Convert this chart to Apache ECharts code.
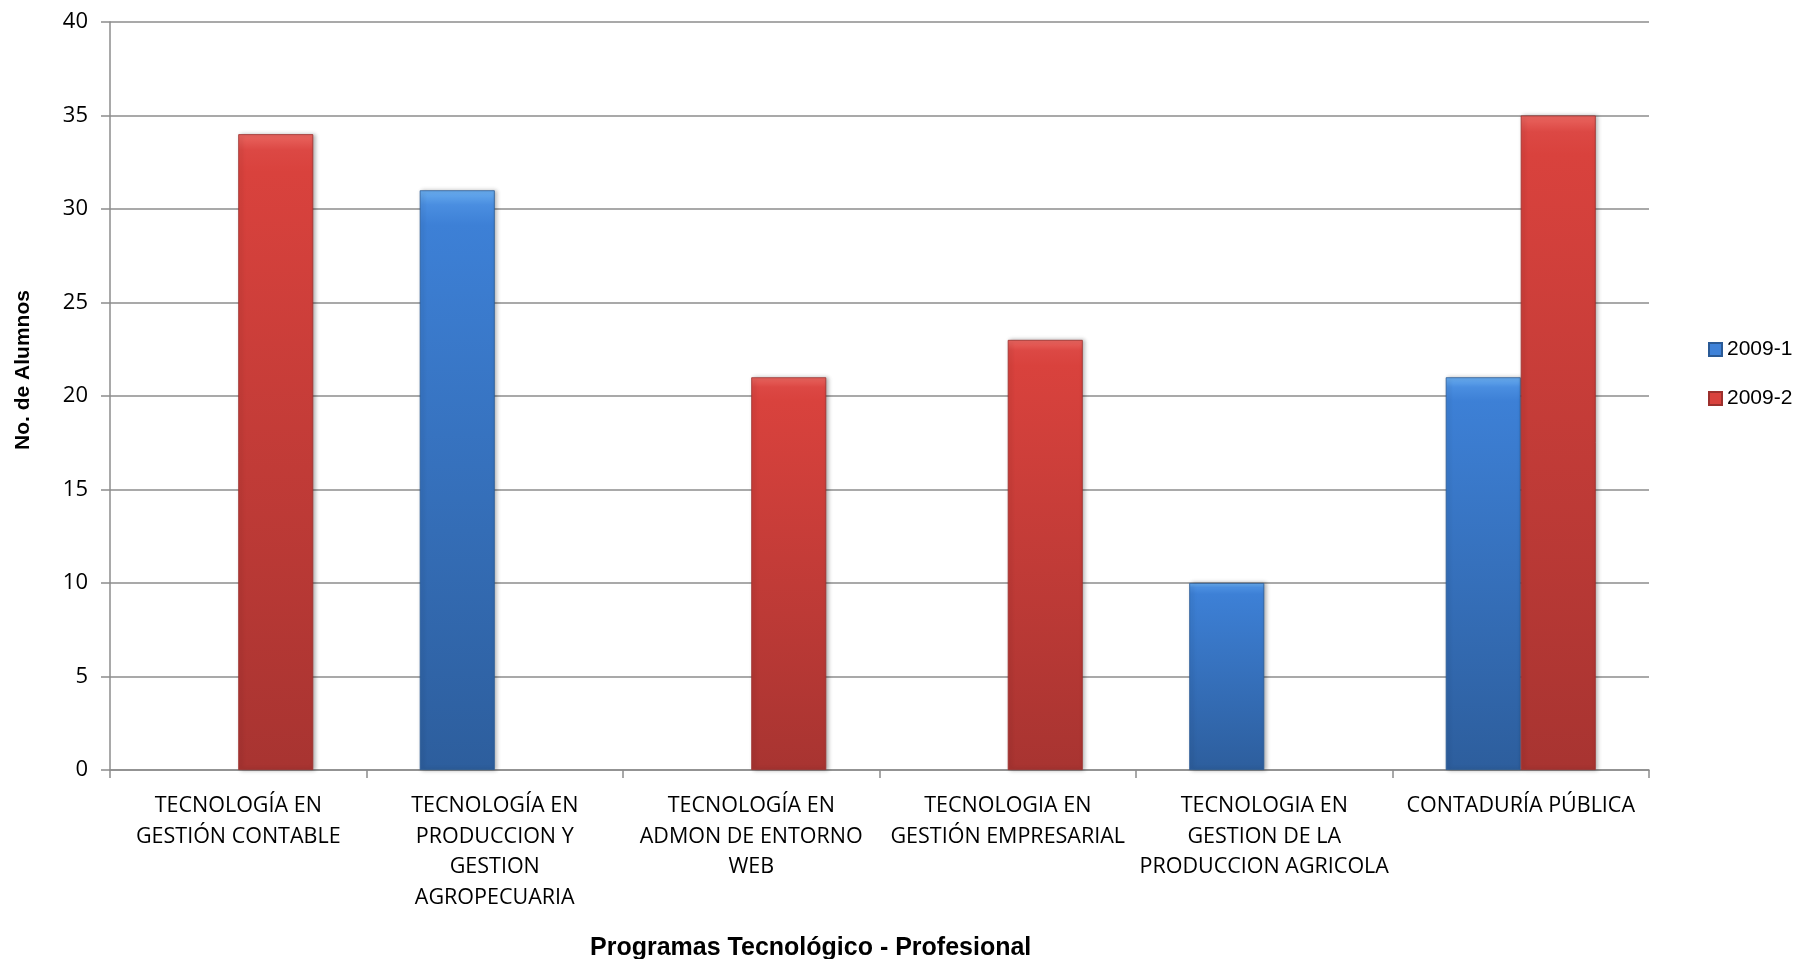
<!DOCTYPE html>
<html>
<head>
<meta charset="utf-8">
<script src="https://cdn.jsdelivr.net/npm/echarts@6/dist/echarts.min.js"></script>
<style>html,body{margin:0;padding:0;background:#fff}#c{width:1798px;height:959px}</style>
</head>
<body>
<div id="c"></div>
<script>
const categories = [
  'TECNOLOGÍA EN\nGESTIÓN CONTABLE',
  'TECNOLOGÍA EN\nPRODUCCION Y\nGESTION\nAGROPECUARIA',
  'TECNOLOGÍA EN\nADMON DE ENTORNO\nWEB',
  'TECNOLOGIA EN\nGESTIÓN EMPRESARIAL',
  'TECNOLOGIA EN\nGESTION DE LA\nPRODUCCION AGRICOLA',
  'CONTADURÍA PÚBLICA'
];
const seriesNames = ['2009-1', '2009-2'];
const values2009_1 = [null, 31, null, null, 10, 21];
const values2009_2 = [34, null, 21, 23, null, 35];
const yTicks = [0, 5, 10, 15, 20, 25, 30, 35, 40];
const xTitle = 'Programas Tecnológico - Profesional';
const yTitle = 'No. de Alumnos';

const blueGrad = new echarts.graphic.LinearGradient(0, 0, 0, 1, [
  {offset: 0, color: '#6aaef0'}, {offset: 0.025, color: '#4a8ee0'},
  {offset: 0.06, color: '#3d80d6'}, {offset: 1, color: '#2d5e9d'}
]);
const redGrad = new echarts.graphic.LinearGradient(0, 0, 0, 1, [
  {offset: 0, color: '#ea6660'}, {offset: 0.025, color: '#dc4844'},
  {offset: 0.06, color: '#d9423d'}, {offset: 1, color: '#a83431'}
]);

const chart = echarts.init(document.getElementById('c'));
chart.setOption({
  animation: false,
  backgroundColor: '#ffffff',
  grid: {left: 110, right: 149, top: 22, bottom: 189, containLabel: false},
  title: {
    text: xTitle, left: 585, top: 931,
    textStyle: {fontFamily: 'Liberation Sans', fontWeight: 'bold', fontSize: 25, color: '#000'}
  },
  graphic: [{
    type: 'text', x: 23, y: 370, rotation: Math.PI / 2,
    style: {text: yTitle, align: 'center', verticalAlign: 'middle',
      font: 'bold 21px "Liberation Sans"', fill: '#000'}
  }],
  legend: {
    orient: 'vertical', left: 1703, top: 334,
    itemWidth: 13, itemHeight: 13, itemGap: 28, icon: 'rect',
    textStyle: {fontFamily: 'Liberation Sans', fontSize: 21, color: '#000'},
    data: [
      {name: seriesNames[0], itemStyle: {color: '#3f82d8'}},
      {name: seriesNames[1], itemStyle: {color: '#d9423d'}}
    ]
  },
  xAxis: {
    type: 'category', data: categories,
    axisLine: {lineStyle: {color: '#8c8c8c', width: 1.5}},
    axisTick: {show: true, length: 8, lineStyle: {color: '#8c8c8c', width: 1.5}},
    axisLabel: {
      interval: 0, margin: 21, color: '#000', fontFamily: 'Open Sans',
      fontSize: 21.5, lineHeight: 30.4
    }
  },
  yAxis: {
    type: 'value', min: yTicks[0], max: yTicks[yTicks.length - 1], interval: 5,
    axisLine: {show: true, lineStyle: {color: '#8c8c8c', width: 1.5}},
    axisTick: {show: true, length: 9, lineStyle: {color: '#8c8c8c', width: 1.5}},
    splitLine: {lineStyle: {color: '#8c8c8c', width: 1.5}},
    axisLabel: {margin: 22, color: '#000', fontFamily: 'Open Sans', fontSize: 22}
  },
  series: [
    {
      name: seriesNames[0], type: 'bar', data: values2009_1, barWidth: 75, barGap: '0%',
      itemStyle: {color: blueGrad, borderColor: '#2a5a96', borderWidth: 0.8,
        shadowColor: 'rgba(0,0,0,0.3)', shadowBlur: 4, shadowOffsetX: 2}
    },
    {
      name: seriesNames[1], type: 'bar', data: values2009_2, barWidth: 75, barGap: '0%',
      itemStyle: {color: redGrad, borderColor: '#9c302d', borderWidth: 0.8,
        shadowColor: 'rgba(0,0,0,0.3)', shadowBlur: 4, shadowOffsetX: 2}
    }
  ]
});
</script>
</body>
</html>
